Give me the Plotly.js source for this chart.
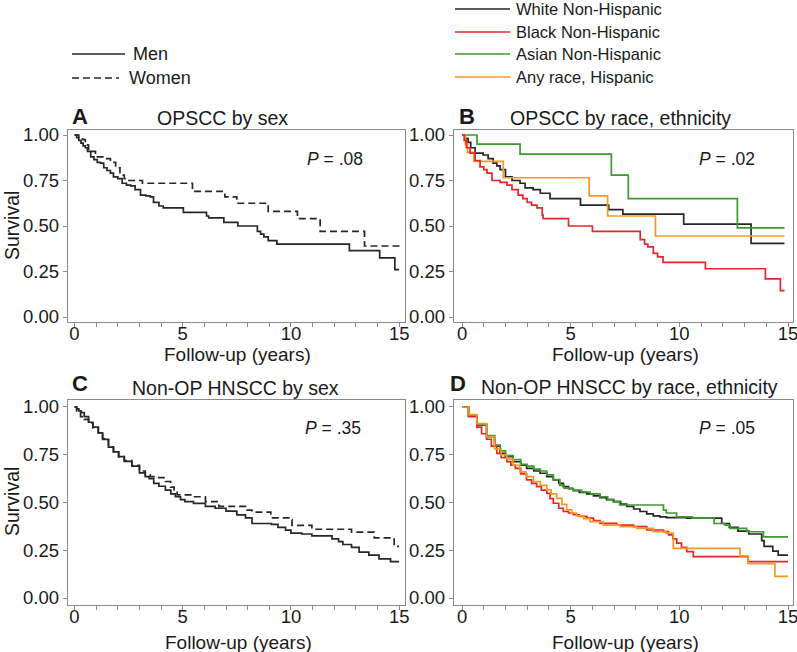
<!DOCTYPE html>
<html>
<head>
<meta charset="utf-8">
<script src="https://cdn.plot.ly/plotly-3.0.1.min.js"></script>
<style>
  html, body { margin: 0; padding: 0; background: #fff; }
  #chart { width: 797px; height: 652px; }
</style>
</head>
<body>
<div id="chart"></div>
<script>
// ---- data (years, survival) ----
// A: OPSCC by sex
const aMenT = [0, 0.1, 0.2, 0.3, 0.4, 0.5, 0.6, 0.75, 0.9, 1.05, 1.2, 1.35, 1.5, 1.66, 1.8, 2.0, 2.2, 2.4, 2.6, 2.8, 3.05, 3.3, 3.5, 3.65, 3.9, 4.1, 5.03, 6.1, 6.2, 6.9, 7.55, 8.45, 8.6, 8.75, 8.95, 9.35, 12.7, 14.1, 14.8, 15.0];
const aMenS = [1, 0.985, 0.97, 0.955, 0.94, 0.93, 0.91, 0.88, 0.865, 0.85, 0.845, 0.82, 0.805, 0.79, 0.77, 0.76, 0.735, 0.725, 0.72, 0.70, 0.67, 0.665, 0.66, 0.63, 0.61, 0.60, 0.575, 0.555, 0.545, 0.52, 0.50, 0.47, 0.455, 0.44, 0.42, 0.40, 0.365, 0.325, 0.26, 0.26];
const aWomenT = [0, 0.2, 0.37, 0.5, 0.6, 0.65, 0.97, 1.06, 1.35, 1.66, 1.9, 2.1, 2.3, 2.45, 3.14, 5.45, 6.95, 7.5, 8.95, 10.3, 11.35, 13.4, 15.2];
const aWomenS = [1, 0.99, 0.975, 0.96, 0.945, 0.91, 0.90, 0.88, 0.87, 0.85, 0.82, 0.78, 0.76, 0.75, 0.735, 0.69, 0.66, 0.625, 0.58, 0.54, 0.47, 0.39, 0.39];

// B: OPSCC by race, ethnicity
const bWhiteT = [0, 0.15, 0.28, 0.4, 0.6, 0.97, 1.2, 1.43, 1.6, 1.75, 2.0, 2.3, 2.67, 2.9, 3.27, 3.6, 4.05, 5.45, 6.75, 7.4, 10.2, 13.3, 14.84];
const bWhiteS = [1, 0.98, 0.96, 0.93, 0.90, 0.89, 0.87, 0.845, 0.83, 0.81, 0.77, 0.75, 0.735, 0.71, 0.70, 0.68, 0.65, 0.615, 0.59, 0.565, 0.51, 0.405, 0.405];
const bBlackT = [0, 0.1, 0.2, 0.37, 0.6, 0.83, 1.0, 1.15, 1.38, 1.75, 2.07, 2.3, 2.58, 2.8, 3.0, 3.2, 3.45, 3.69, 3.73, 4.9, 6.0, 8.2, 8.4, 8.55, 8.8, 9.0, 9.25, 11.2, 13.96, 14.65, 14.84];
const bBlackS = [1, 0.97, 0.93, 0.90, 0.86, 0.825, 0.81, 0.79, 0.75, 0.74, 0.725, 0.70, 0.67, 0.65, 0.63, 0.615, 0.60, 0.56, 0.54, 0.50, 0.47, 0.425, 0.40, 0.385, 0.35, 0.33, 0.30, 0.265, 0.21, 0.145, 0.145];
const bAsianT = [0, 0.69, 2.67, 6.87, 7.65, 12.67, 14.84];
const bAsianS = [1, 0.95, 0.895, 0.78, 0.65, 0.49, 0.49];
const bHispT = [0, 0.15, 0.25, 0.55, 1.9, 5.85, 6.7, 8.9, 14.84];
const bHispS = [1, 0.95, 0.905, 0.855, 0.765, 0.665, 0.555, 0.445, 0.445];

// C: Non-OP HNSCC by sex
const cMenT = [0, 0.1, 0.2, 0.3, 0.45, 0.65, 0.85, 1.1, 1.3, 1.57, 1.8, 2.04, 2.3, 2.65, 3.0, 3.27, 3.45, 3.66, 3.9, 4.2, 4.45, 4.66, 4.9, 5.1, 5.5, 6.05, 6.5, 7.0, 7.5, 7.9, 8.2, 9.1, 9.4, 9.75, 10.0, 10.5, 10.97, 11.9, 12.2, 12.4, 12.8, 13.15, 13.6, 14.07, 14.6, 15.0];
const cMenS = [1, 0.99, 0.98, 0.97, 0.95, 0.92, 0.895, 0.865, 0.83, 0.79, 0.765, 0.74, 0.715, 0.69, 0.655, 0.635, 0.625, 0.60, 0.585, 0.565, 0.545, 0.53, 0.515, 0.505, 0.495, 0.48, 0.47, 0.455, 0.435, 0.42, 0.39, 0.385, 0.37, 0.355, 0.34, 0.335, 0.325, 0.31, 0.295, 0.28, 0.265, 0.24, 0.225, 0.205, 0.19, 0.19];
const cWomenT = [0, 0.1, 0.28, 0.45, 0.65, 0.85, 1.1, 1.3, 1.57, 1.8, 2.04, 2.3, 2.65, 3.0, 3.27, 3.5, 3.75, 4.2, 4.44, 4.6, 4.74, 5.42, 6.05, 6.67, 7.9, 8.2, 9.07, 9.9, 10.05, 10.97, 12.8, 13.85, 14.77, 15.0];
const cWomenS = [1, 0.97, 0.95, 0.935, 0.915, 0.89, 0.865, 0.835, 0.79, 0.765, 0.74, 0.72, 0.695, 0.665, 0.645, 0.635, 0.63, 0.61, 0.58, 0.56, 0.54, 0.53, 0.505, 0.48, 0.46, 0.45, 0.42, 0.41, 0.38, 0.36, 0.345, 0.315, 0.27, 0.27];

// D: Non-OP HNSCC by race, ethnicity
const dWhiteT = [0, 0.3, 0.68, 1.13, 1.5, 1.75, 2.0, 2.35, 2.7, 2.97, 3.3, 3.59, 3.9, 4.2, 4.45, 4.66, 4.9, 5.12, 5.4, 5.74, 6.05, 6.35, 6.65, 6.96, 7.3, 7.58, 7.9, 8.19, 8.5, 8.8, 9.1, 9.41, 10.34, 11.95, 12.3, 12.7, 13.2, 13.79, 13.9, 14.3, 14.55, 15.0];
const dWhiteS = [1, 0.955, 0.906, 0.845, 0.795, 0.757, 0.74, 0.714, 0.695, 0.679, 0.665, 0.653, 0.635, 0.618, 0.6, 0.583, 0.572, 0.562, 0.553, 0.545, 0.535, 0.525, 0.515, 0.505, 0.492, 0.479, 0.466, 0.453, 0.44, 0.43, 0.425, 0.421, 0.418, 0.39, 0.37, 0.35, 0.335, 0.30, 0.27, 0.245, 0.225, 0.225];
const dBlackT = [0, 0.3, 0.68, 0.9, 1.13, 1.35, 1.6, 1.8, 2.06, 2.25, 2.45, 2.7, 2.97, 3.2, 3.43, 3.65, 3.9, 4.05, 4.2, 4.45, 4.66, 4.9, 5.12, 5.4, 5.74, 6.05, 6.35, 7.12, 7.89, 8.5, 9.27, 9.5, 9.7, 9.88, 10.1, 10.34, 10.64, 13.17, 15.0];
const dBlackS = [1, 0.95, 0.895, 0.86, 0.831, 0.795, 0.757, 0.735, 0.714, 0.695, 0.679, 0.65, 0.618, 0.60, 0.583, 0.565, 0.548, 0.52, 0.496, 0.47, 0.453, 0.445, 0.436, 0.427, 0.418, 0.405, 0.391, 0.382, 0.374, 0.356, 0.348, 0.33, 0.31, 0.287, 0.265, 0.243, 0.217, 0.19, 0.19];
const dAsianT = [0, 0.3, 0.68, 1.13, 1.5, 1.75, 2.0, 2.35, 2.7, 3.0, 3.3, 3.6, 3.9, 4.2, 4.5, 4.7, 5.1, 5.5, 5.9, 6.35, 6.7, 7.0, 7.25, 9.27, 9.4, 9.87, 10.6, 11.6, 12.1, 12.34, 13.1, 13.87, 15.0];
const dAsianS = [1, 0.955, 0.91, 0.85, 0.80, 0.77, 0.745, 0.725, 0.70, 0.69, 0.675, 0.665, 0.645, 0.62, 0.59, 0.575, 0.565, 0.555, 0.545, 0.53, 0.515, 0.505, 0.487, 0.46, 0.445, 0.425, 0.418, 0.39, 0.382, 0.365, 0.347, 0.32, 0.32];
const dHispT = [0, 0.3, 0.68, 1.13, 1.5, 1.8, 2.06, 2.35, 2.66, 2.95, 3.28, 3.6, 3.9, 4.1, 4.35, 4.6, 4.81, 5.05, 5.27, 5.6, 5.89, 6.5, 7.27, 8.04, 8.8, 9.4, 9.72, 12.79, 13.17, 14.4, 15.0];
const dHispS = [1, 0.96, 0.913, 0.845, 0.78, 0.75, 0.727, 0.695, 0.66, 0.635, 0.61, 0.59, 0.566, 0.545, 0.522, 0.49, 0.461, 0.445, 0.43, 0.415, 0.40, 0.382, 0.374, 0.365, 0.348, 0.34, 0.26, 0.22, 0.18, 0.113, 0.113];

// labels
const sexNames = ["Men", "Women"];
const raceNames = ["White Non-Hispanic", "Black Non-Hispanic", "Asian Non-Hispanic", "Any race, Hispanic"];
const panelLetters = ["A", "B", "C", "D"];
const panelTitles = ["OPSCC by sex", "OPSCC by race, ethnicity", "Non-OP HNSCC by sex", "Non-OP HNSCC by race, ethnicity"];
const pValues = [".08", ".02", ".35", ".05"];
const xTickVals = [0, 5, 10, 15];
const xTickText = ["0", "5", "10", "15"];
const yTickVals = [0, 0.25, 0.5, 0.75, 1];
const yTickText = ["0.00", "0.25", "0.50", "0.75", "1.00"];

// ---- styling ----
const W = 797, H = 652;
const FONT = "Liberation Sans, Arial, sans-serif";
const raceColors = ["#262626", "#e8252b", "#3c9a2e", "#f7991f"];
const sexDash = ["solid", "7px,4px"];
const axisGray = "#8a8a8a";
const px = x => x / W;
const py = y => 1 - y / H;

function km(t, s, ax, color, dash, name) {
    return {
        type: "scatter", mode: "lines", name: name,
        x: t, y: s, xaxis: "x" + ax, yaxis: "y" + ax,
        line: {shape: "hv", color: color, width: 1.7, dash: dash},
        hoverinfo: "skip", showlegend: false
    };
}

const traces = [
    km(aMenT, aMenS, "", raceColors[0], sexDash[0], sexNames[0]),
    km(aWomenT, aWomenS, "", raceColors[0], sexDash[1], sexNames[1]),
    km(bWhiteT, bWhiteS, "2", raceColors[0], "solid", raceNames[0]),
    km(bAsianT, bAsianS, "2", raceColors[2], "solid", raceNames[2]),
    km(bHispT, bHispS, "2", raceColors[3], "solid", raceNames[3]),
    km(bBlackT, bBlackS, "2", raceColors[1], "solid", raceNames[1]),
    km(cMenT, cMenS, "3", raceColors[0], sexDash[0], sexNames[0]),
    km(cWomenT, cWomenS, "3", raceColors[0], sexDash[1], sexNames[1]),
    km(dWhiteT, dWhiteS, "4", raceColors[0], "solid", raceNames[0]),
    km(dAsianT, dAsianS, "4", raceColors[2], "solid", raceNames[2]),
    km(dBlackT, dBlackS, "4", raceColors[1], "solid", raceNames[1]),
    km(dHispT, dHispS, "4", raceColors[3], "solid", raceNames[3])
];

// panel boxes in pixels: [left, right, top, bottom]
const boxes = [[68, 405, 130, 322], [454, 793, 130, 322], [68, 405, 400, 605], [454, 793, 400, 605]];
const xRanges = [[-0.3, 15.27], [-0.37, 15.23], [-0.3, 15.27], [-0.37, 15.23]];
const yRanges = [[-0.0275, 1.0275], [-0.0275, 1.0275], [-0.0366, 1.0366], [-0.0366, 1.0366]];

function xAxis(i) {
    const b = boxes[i];
    return {
        domain: [px(b[0]), px(b[1])], range: xRanges[i], anchor: i ? "y" + (i + 1) : "y",
        tickmode: "array", tickvals: xTickVals, ticktext: xTickText,
        ticks: "outside", ticklen: 4, tickwidth: 1, tickcolor: axisGray,
        minor: {ticks: "outside", dtick: 1, tick0: 0, ticklen: 4, tickwidth: 1, tickcolor: axisGray, showgrid: false},
        ticklabelstandoff: -9, ticklabeloverflow: "allow",
        showline: true, mirror: true, linecolor: axisGray, linewidth: 1.2,
        showgrid: false, zeroline: false, fixedrange: true,
        tickfont: {family: FONT, size: 18.5, color: "#1a1a1a"}
    };
}
function yAxis(i) {
    const b = boxes[i];
    return {
        domain: [py(b[3]), py(b[2])], range: yRanges[i], anchor: i ? "x" + (i + 1) : "x",
        tickmode: "array", tickvals: yTickVals, ticktext: yTickText,
        ticks: "outside", ticklen: 4, tickwidth: 1, tickcolor: axisGray,
        ticklabeloverflow: "allow",
        showline: true, mirror: true, linecolor: axisGray, linewidth: 1.2,
        showgrid: false, zeroline: false, fixedrange: true,
        tickfont: {family: FONT, size: 18.5, color: "#1a1a1a"}
    };
}

const ann = [];
function text(x, y, t, size, opts) {
    ann.push(Object.assign({
        xref: "paper", yref: "paper", x: px(x), y: py(y), text: t, showarrow: false,
        xanchor: "center", yanchor: "middle",
        font: {family: FONT, size: size, color: "#1a1a1a"}
    }, opts || {}));
}

// panel letters, titles, p-values, axis titles
const letterPos = [[70, 117], [457, 117], [70, 383], [448, 383]];
const titlePos = [[222, 118], [620, 118], [235, 388], [629, 387]];
const pPos = [[305, 159], [697, 159], [303, 428], [697, 428]];
const xTitlePos = [[237, 354], [625, 354], [238, 642], [625, 642]];
for (let i = 0; i < 4; i++) {
    text(letterPos[i][0], letterPos[i][1], "<b>" + panelLetters[i] + "</b>", 22, {xanchor: "left"});
    text(titlePos[i][0], titlePos[i][1], panelTitles[i], 19.5);
    text(pPos[i][0], pPos[i][1], "<i>P</i> = " + pValues[i], 17.5, {xanchor: "left"});
    text(xTitlePos[i][0], xTitlePos[i][1], "Follow-up (years)", 19);
}
text(12, 226, "Survival", 19.5, {textangle: -90});
text(12, 502, "Survival", 19.5, {textangle: -90});

// legends drawn as line samples + labels
const shapes = [];
const sexLegY = [54, 78];
sexNames.forEach((n, i) => {
    shapes.push({type: "line", xref: "paper", yref: "paper",
        x0: px(72), x1: px(i ? 119 : 125), y0: py(sexLegY[i]), y1: py(sexLegY[i]),
        line: {color: raceColors[0], width: 1.7, dash: sexDash[i]}});
    text(i ? 127 : 131, sexLegY[i], n, 18, {xanchor: "left"});
});
const raceLegY = [9, 32, 54, 77];
raceNames.forEach((n, i) => {
    shapes.push({type: "line", xref: "paper", yref: "paper",
        x0: px(455), x1: px(510), y0: py(raceLegY[i]), y1: py(raceLegY[i]),
        line: {color: raceColors[i], width: 1.7}});
    text(514, raceLegY[i], n, 16.5, {xanchor: "left"});
});

const layout = {
    width: W, height: H,
    margin: {l: 0, r: 0, t: 0, b: 0},
    paper_bgcolor: "#ffffff", plot_bgcolor: "#ffffff",
    showlegend: false,
    font: {family: FONT, size: 18, color: "#1a1a1a"},
    xaxis: xAxis(0), yaxis: yAxis(0),
    xaxis2: xAxis(1), yaxis2: yAxis(1),
    xaxis3: xAxis(2), yaxis3: yAxis(2),
    xaxis4: xAxis(3), yaxis4: yAxis(3),
    annotations: ann,
    shapes: shapes
};

Plotly.newPlot("chart", traces, layout, {displayModeBar: false, staticPlot: true});
</script>
</body>
</html>
